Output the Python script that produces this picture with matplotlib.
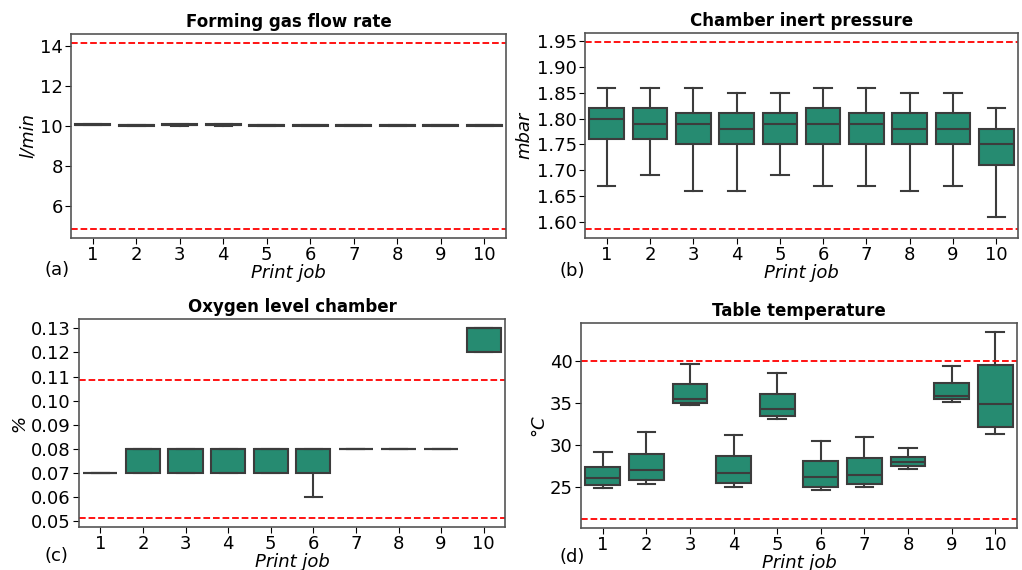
import numpy as np
import matplotlib
matplotlib.use("Agg")
import matplotlib.pyplot as plt

# Print jobs
jobs = np.arange(1, 11)
job_labels = [str(j) for j in jobs]

# Box statistics per job: whisker low, Q1, median, Q3, whisker high
gas_lo  = [10.05, 10.00, 10.00, 10.00, 10.00, 10.00, 10.00, 10.00, 10.00, 10.00]
gas_q1  = [10.05, 10.00, 10.02, 10.02, 10.00, 10.00, 10.00, 10.00, 10.00, 10.00]
gas_med = [10.06, 10.05, 10.05, 10.05, 10.05, 10.05, 10.05, 10.05, 10.05, 10.05]
gas_q3  = [10.10, 10.05, 10.10, 10.10, 10.05, 10.05, 10.05, 10.05, 10.05, 10.05]
gas_hi  = [10.10, 10.05, 10.10, 10.10, 10.05, 10.05, 10.05, 10.05, 10.05, 10.05]
gas_limits = [4.85, 14.13]

pres_lo  = [1.67, 1.69, 1.66, 1.66, 1.69, 1.67, 1.67, 1.66, 1.67, 1.61]
pres_q1  = [1.76, 1.76, 1.75, 1.75, 1.75, 1.75, 1.75, 1.75, 1.75, 1.71]
pres_med = [1.80, 1.79, 1.79, 1.78, 1.79, 1.79, 1.79, 1.78, 1.78, 1.75]
pres_q3  = [1.82, 1.82, 1.81, 1.81, 1.81, 1.82, 1.81, 1.81, 1.81, 1.78]
pres_hi  = [1.86, 1.86, 1.86, 1.85, 1.85, 1.86, 1.86, 1.85, 1.85, 1.82]
pres_limits = [1.587, 1.9475]

oxy_lo  = [0.07, 0.07, 0.07, 0.07, 0.07, 0.06, 0.08, 0.08, 0.08, 0.12]
oxy_q1  = [0.07, 0.07, 0.07, 0.07, 0.07, 0.07, 0.08, 0.08, 0.08, 0.12]
oxy_med = [0.07, 0.08, 0.08, 0.08, 0.08, 0.08, 0.08, 0.08, 0.08, 0.13]
oxy_q3  = [0.07, 0.08, 0.08, 0.08, 0.08, 0.08, 0.08, 0.08, 0.08, 0.13]
oxy_hi  = [0.07, 0.08, 0.08, 0.08, 0.08, 0.08, 0.08, 0.08, 0.08, 0.13]
oxy_limits = [0.0513, 0.1087]

temp_lo  = [24.9, 25.35, 34.8, 25.0, 33.1, 24.65, 25.0, 27.2, 35.1, 31.35]
temp_q1  = [25.3, 25.9, 34.95, 25.5, 33.45, 25.05, 25.4, 27.55, 35.45, 32.1]
temp_med = [26.1, 27.05, 35.5, 26.65, 34.3, 26.2, 26.45, 27.95, 35.85, 34.85]
temp_q3  = [27.4, 29.0, 37.25, 28.7, 36.1, 28.15, 28.5, 28.6, 37.3, 39.45]
temp_hi  = [29.2, 31.6, 39.65, 31.2, 38.55, 30.55, 31.0, 29.7, 39.4, 43.35]
temp_limits = [21.3, 39.95]

box_color = "#268b71"
line_color = "#3c3c3c"

fig = plt.figure(figsize=(10.22, 5.7), dpi=100)
W, H = 1022, 570


def make_stats(lo, q1, med, q3, hi):
    return [dict(whislo=a, q1=b, med=c, q3=d, whishi=e, fliers=[])
            for a, b, c, d, e in zip(lo, q1, med, q3, hi)]


def add_axes(l, t, r, b):
    return fig.add_axes([l / W, 1 - b / H, (r - l) / W, (b - t) / H])


def draw_panel(ax, stats, limits, title, ylabel, tag, tag_xy, yticks=None, fmt=None):
    lp = dict(color=line_color, linewidth=1.5)
    ax.bxp(stats, positions=np.arange(len(stats)), widths=0.8,
           showfliers=False, patch_artist=True,
           boxprops=dict(facecolor=box_color, edgecolor=line_color, linewidth=1.5),
           medianprops=lp, whiskerprops=lp, capprops=lp, capwidths=0.4)
    for v in limits:
        ax.axhline(v, color="red", linestyle="--", linewidth=1.3)
    # y range as autoscale would give with the limit lines included
    vals = [s["whislo"] for s in stats] + [s["whishi"] for s in stats] + list(limits)
    lo, hi = min(vals), max(vals)
    pad = 0.05 * (hi - lo)
    ax.set_ylim(lo - pad, hi + pad)
    ax.set_xlim(-0.5, len(stats) - 0.5)
    ax.set_xticks(np.arange(len(stats)))
    ax.set_xticklabels(job_labels)
    if yticks is not None:
        ax.set_yticks(yticks)
    if fmt is not None:
        ax.yaxis.set_major_formatter(plt.FormatStrFormatter(fmt))
    ax.tick_params(labelsize=13, pad=2, length=4)
    ax.set_title(title, fontsize=12, fontweight="bold", pad=5)
    ax.set_xlabel("Print job", fontsize=13, style="italic", labelpad=0)
    ax.set_ylabel(ylabel, fontsize=13, style="italic", labelpad=2)
    for sp in ax.spines.values():
        sp.set_color("#555555")
        sp.set_linewidth(1.2)
    fig.text(tag_xy[0] / W, 1 - tag_xy[1] / H, tag, fontsize=13,
             ha="left", va="center")


ax_a = add_axes(71, 34, 506, 238)
ax_b = add_axes(585, 33, 1018, 238)
ax_c = add_axes(79, 319, 505, 527)
ax_d = add_axes(581, 323, 1017, 528)

draw_panel(ax_a, make_stats(gas_lo, gas_q1, gas_med, gas_q3, gas_hi), gas_limits,
           "Forming gas flow rate", "l/min", "(a)", (45, 270),
           yticks=[6, 8, 10, 12, 14])
draw_panel(ax_b, make_stats(pres_lo, pres_q1, pres_med, pres_q3, pres_hi), pres_limits,
           "Chamber inert pressure", "mbar", "(b)", (559, 271),
           yticks=np.arange(1.60, 1.951, 0.05), fmt="%.2f")
draw_panel(ax_c, make_stats(oxy_lo, oxy_q1, oxy_med, oxy_q3, oxy_hi), oxy_limits,
           "Oxygen level chamber", "%", "(c)", (45, 556),
           yticks=np.arange(0.05, 0.131, 0.01), fmt="%.2f")
draw_panel(ax_d, make_stats(temp_lo, temp_q1, temp_med, temp_q3, temp_hi), temp_limits,
           "Table temperature", "°C", "(d)", (559, 557),
           yticks=[25, 30, 35, 40])

fig.savefig("out.png", dpi=100)
